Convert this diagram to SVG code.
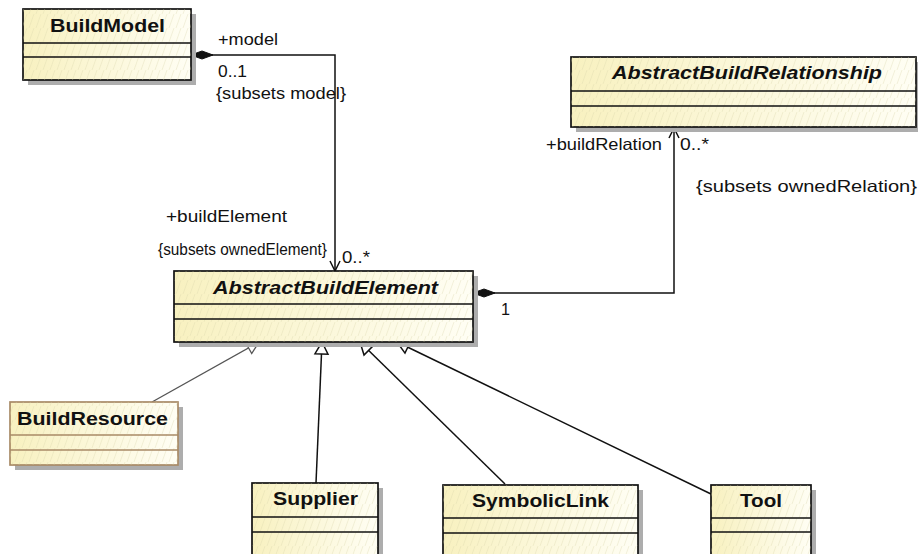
<svg xmlns="http://www.w3.org/2000/svg" width="918" height="554" viewBox="0 0 918 554">
<style>
.box{fill:url(#fillg);stroke:#111;stroke-width:1.7}
.hatch{fill:url(#hatch);stroke:none}
.shadow{fill:#adadad}
.sep{stroke:#111;stroke-width:1.6}
.title{font-family:"Liberation Sans",Arial,sans-serif;font-weight:bold;font-size:17.5px;fill:#111}
.it{font-style:italic}
.lbl{font-family:"Liberation Sans",Arial,sans-serif;font-size:16.5px;fill:#111}
.conn{fill:none;stroke:#111;stroke-width:1.5}
.gen{marker-end:url(#tri)}
</style>
<defs>
<linearGradient id="fillg" x1="0" y1="0" x2="1" y2="0">
<stop offset="0" stop-color="#f8f1c0"/>
<stop offset="1" stop-color="#fffef4"/>
</linearGradient>
<pattern id="hatch" width="7" height="14" patternUnits="userSpaceOnUse">
<path d="M6,0 L1,14" stroke="#d9d3a8" stroke-width="0.6" opacity="0.55"/>
</pattern>
<marker id="tri" markerUnits="userSpaceOnUse" markerWidth="30" markerHeight="30" refX="0" refY="0" viewBox="-15 -15 30 30" orient="auto" overflow="visible">
<path d="M0,0 L-12,-6.5 L-12,6.5 Z" fill="#fff" stroke="#111" stroke-width="1.5"/>
</marker>
<marker id="trig" markerUnits="userSpaceOnUse" markerWidth="30" markerHeight="30" refX="0" refY="0" viewBox="-15 -15 30 30" orient="auto" overflow="visible">
<path d="M0,0 L-12,-6.5 L-12,6.5 Z" fill="#fff" stroke="#555" stroke-width="1.3"/>
</marker>
<marker id="dia" markerUnits="userSpaceOnUse" markerWidth="30" markerHeight="30" refX="0" refY="0" viewBox="-2 -15 30 30" orient="auto" overflow="visible">
<path d="M0,0 L11,-4 L22,0 L11,4 Z" fill="#111" stroke="#111" stroke-width="1"/>
</marker>
<marker id="open" markerUnits="userSpaceOnUse" markerWidth="30" markerHeight="30" refX="0" refY="0" viewBox="-15 -15 30 30" orient="auto" overflow="visible">
<path d="M-10,-5 L0,0 L-10,5" fill="none" stroke="#111" stroke-width="1.5"/>
</marker>
</defs>
<rect width="918" height="554" fill="#fff"/>

<g id="connectors">
<path class="conn" d="M191,55 L335,55 L335,271" marker-start="url(#dia)" marker-end="url(#open)"/>
<path class="conn" d="M473,293 L674,293 L674,128" marker-start="url(#dia)" marker-end="url(#open)"/>
<path d="M152,402 L259,342" fill="none" stroke="#555" stroke-width="1.3" marker-end="url(#trig)"/>
<path class="conn gen" d="M316,483 L322,342"/>
<path class="conn gen" d="M505,484 L360,342"/>
<path class="conn gen" d="M711,494 L397,342"/>
</g>

<g id="labels">
<text class="lbl" x="218" y="45" textLength="60" lengthAdjust="spacingAndGlyphs">+model</text>
<text class="lbl" x="218" y="77" textLength="29" lengthAdjust="spacingAndGlyphs">0..1</text>
<text class="lbl" x="216" y="99" textLength="130" lengthAdjust="spacingAndGlyphs">{subsets model}</text>
<text class="lbl" x="166" y="222" textLength="121" lengthAdjust="spacingAndGlyphs">+buildElement</text>
<text class="lbl" x="158" y="255" textLength="169" lengthAdjust="spacingAndGlyphs">{subsets ownedElement}</text>
<text class="lbl" x="342" y="263" textLength="28" lengthAdjust="spacingAndGlyphs">0..*</text>
<text class="lbl" x="501" y="315" textLength="9" lengthAdjust="spacingAndGlyphs">1</text>
<text class="lbl" x="546" y="150" textLength="116" lengthAdjust="spacingAndGlyphs">+buildRelation</text>
<text class="lbl" x="680" y="150" textLength="29" lengthAdjust="spacingAndGlyphs">0..*</text>
<text class="lbl" x="696" y="192" textLength="221" lengthAdjust="spacingAndGlyphs">{subsets ownedRelation}</text>
</g>

<g id="BuildModel">
<rect class="shadow" x="28" y="14" width="168" height="71"/>
<rect class="box" x="23" y="9" width="168" height="71"/>
<rect class="hatch" x="23" y="9" width="168" height="71"/>
<line class="sep" x1="23" y1="43" x2="191" y2="43"/>
<line class="sep" x1="23" y1="57" x2="191" y2="57"/>
<text class="title" x="50" y="32" textLength="115" lengthAdjust="spacingAndGlyphs">BuildModel</text>
</g>

<g id="AbstractBuildRelationship">
<rect class="shadow" x="576" y="62" width="345" height="70"/>
<rect class="box" x="571" y="57" width="345" height="70"/>
<rect class="hatch" x="571" y="57" width="345" height="70"/>
<line class="sep" x1="571" y1="91" x2="916" y2="91"/>
<line class="sep" x1="571" y1="106" x2="916" y2="106"/>
<text class="title it" x="612" y="79" textLength="270" lengthAdjust="spacingAndGlyphs">AbstractBuildRelationship</text>
</g>

<g id="AbstractBuildElement">
<rect class="shadow" x="179" y="276" width="299" height="71"/>
<rect class="box" x="174" y="271" width="299" height="71"/>
<rect class="hatch" x="174" y="271" width="299" height="71"/>
<line class="sep" x1="174" y1="304" x2="473" y2="304"/>
<line class="sep" x1="174" y1="319" x2="473" y2="319"/>
<text class="title it" x="213" y="294" textLength="225" lengthAdjust="spacingAndGlyphs">AbstractBuildElement</text>
</g>

<g id="BuildResource">
<rect class="shadow" x="15" y="407" width="168" height="63"/>
<rect class="box" x="10" y="402" width="168" height="63" style="stroke:#a88a66"/>
<rect class="hatch" x="10" y="402" width="168" height="63"/>
<line class="sep" x1="10" y1="435" x2="178" y2="435" style="stroke:#a88a66"/>
<line class="sep" x1="10" y1="450" x2="178" y2="450" style="stroke:#a88a66"/>
<text class="title" x="17" y="425" textLength="151" lengthAdjust="spacingAndGlyphs">BuildResource</text>
</g>

<g id="Supplier">
<rect class="shadow" x="257" y="488" width="126" height="80"/>
<rect class="box" x="252" y="483" width="126" height="80"/>
<rect class="hatch" x="252" y="483" width="126" height="80"/>
<line class="sep" x1="252" y1="517" x2="378" y2="517"/>
<line class="sep" x1="252" y1="532" x2="378" y2="532"/>
<text class="title" x="273" y="505" textLength="85" lengthAdjust="spacingAndGlyphs">Supplier</text>
</g>

<g id="SymbolicLink">
<rect class="shadow" x="448" y="490" width="195" height="80"/>
<rect class="box" x="443" y="485" width="195" height="80"/>
<rect class="hatch" x="443" y="485" width="195" height="80"/>
<line class="sep" x1="443" y1="518" x2="638" y2="518"/>
<line class="sep" x1="443" y1="533" x2="638" y2="533"/>
<text class="title" x="472" y="507" textLength="137" lengthAdjust="spacingAndGlyphs">SymbolicLink</text>
</g>

<g id="Tool">
<rect class="shadow" x="716" y="490" width="100" height="80"/>
<rect class="box" x="711" y="485" width="100" height="80"/>
<rect class="hatch" x="711" y="485" width="100" height="80"/>
<line class="sep" x1="711" y1="518" x2="811" y2="518"/>
<line class="sep" x1="711" y1="532" x2="811" y2="532"/>
<text class="title" x="740" y="507" textLength="42" lengthAdjust="spacingAndGlyphs">Tool</text>
</g>
</svg>
